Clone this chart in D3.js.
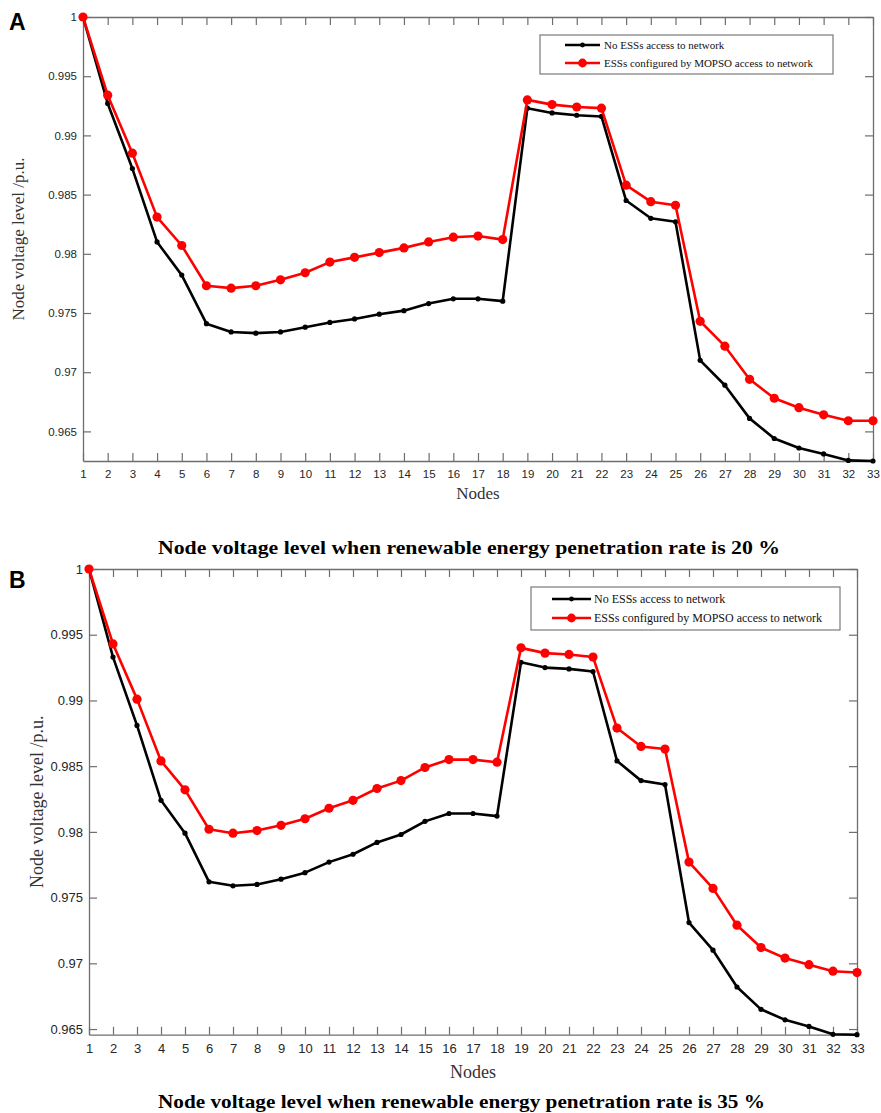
<!DOCTYPE html>
<html>
<head>
<meta charset="utf-8">
<script src="https://cdn.jsdelivr.net/npm/d3@7"></script>
<style>
  body { margin: 0; background: #fff; }
  svg { display: block; }
  .tick text { fill: #262626; font-family: "Liberation Sans", Arial, sans-serif; }
</style>
</head>
<body>
<svg id="chart" width="881" height="1113"></svg>
<script>
// node numbers on the x axis
var nodes = [1, 2, 3, 4, 5, 6, 7, 8, 9, 10, 11, 12, 13, 14, 15, 16, 17, 18, 19, 20, 21, 22, 23, 24, 25, 26, 27, 28, 29, 30, 31, 32, 33];

// panel A - 20 % penetration
var noEss20 = [1.0000, 0.9927, 0.9872, 0.9810, 0.9782, 0.9741, 0.9734, 0.9733, 0.9734, 0.9738, 0.9742, 0.9745, 0.9749, 0.9752, 0.9758, 0.9762, 0.9762, 0.9760, 0.9923, 0.9919, 0.9917, 0.9916, 0.9845, 0.9830, 0.9827, 0.9710, 0.9689, 0.9661, 0.9644, 0.9636, 0.9631, 0.96255, 0.9625];
var mopso20 = [1.0000, 0.9934, 0.9885, 0.9831, 0.9807, 0.9773, 0.9771, 0.9773, 0.9778, 0.9784, 0.9793, 0.9797, 0.9801, 0.9805, 0.9810, 0.9814, 0.9815, 0.9812, 0.9930, 0.9926, 0.9924, 0.9923, 0.9858, 0.9844, 0.9841, 0.9743, 0.9722, 0.9694, 0.9678, 0.9670, 0.9664, 0.9659, 0.9659];

// panel B - 35 % penetration
var noEss35 = [1.0000, 0.9933, 0.9881, 0.9824, 0.9799, 0.9762, 0.9759, 0.9760, 0.9764, 0.9769, 0.9777, 0.9783, 0.9792, 0.9798, 0.9808, 0.9814, 0.9814, 0.9812, 0.9929, 0.9925, 0.9924, 0.9922, 0.9854, 0.9839, 0.9836, 0.9731, 0.9710, 0.9682, 0.9665, 0.9657, 0.9652, 0.9646, 0.96457];
var mopso35 = [1.0000, 0.9943, 0.9901, 0.9854, 0.9832, 0.9802, 0.9799, 0.9801, 0.9805, 0.9810, 0.9818, 0.9824, 0.9833, 0.9839, 0.9849, 0.9855, 0.9855, 0.9853, 0.9940, 0.9936, 0.9935, 0.9933, 0.9879, 0.9865, 0.9863, 0.9777, 0.9757, 0.9729, 0.9712, 0.9704, 0.9699, 0.9694, 0.9693];

var yTicks = [0.965, 0.97, 0.975, 0.98, 0.985, 0.99, 0.995, 1];
var legendLabels = ["No ESSs access to network", "ESSs configured by MOPSO access to network"];
var titles = ["Node voltage level when renewable energy penetration rate is 20 %",
              "Node voltage level when renewable energy penetration rate is 35 %"];

var svg = d3.select("#chart");
var axisColor = "#6e6e6e";

function drawPanel(p) {
    var x = d3.scaleLinear().domain([1, 33]).range([p.left, p.right]);
    // MATLAB "axis tight" style: bottom sits on the lowest value
    var yMin = d3.min(p.black);
    var y = d3.scaleLinear().domain([yMin, 1]).range([p.bottom, p.top]);

    var g = svg.append("g");
    var fmt = function(d) { return String(+d.toFixed(3)); };

    var bottom = g.append("g").attr("transform", "translate(0," + p.bottom + ")")
        .call(d3.axisBottom(x).tickValues(nodes).tickFormat(d3.format("d")).tickSizeInner(-8).tickSizeOuter(0).tickPadding(9));
    var top = g.append("g").attr("transform", "translate(0," + p.top + ")")
        .call(d3.axisTop(x).tickValues(nodes).tickFormat("").tickSizeInner(-8).tickSizeOuter(0));
    var left = g.append("g").attr("transform", "translate(" + p.left + ",0)")
        .call(d3.axisLeft(y).tickValues(yTicks).tickFormat(fmt).tickSizeInner(-8).tickSizeOuter(0).tickPadding(6));
    var right = g.append("g").attr("transform", "translate(" + p.right + ",0)")
        .call(d3.axisRight(y).tickValues(yTicks).tickFormat("").tickSizeInner(-8).tickSizeOuter(0));

    [bottom, top, left, right].forEach(function(a) {
        a.select(".domain").attr("stroke", axisColor).attr("stroke-width", 1.3);
        a.selectAll(".tick line").attr("stroke", axisColor).attr("stroke-width", 1.2);
        a.selectAll(".tick text").attr("font-size", p.tickFont);
    });

    var line = d3.line().x(function(d, i) { return x(nodes[i]); }).y(function(d) { return y(d); });

    // black series
    g.append("path").datum(p.black).attr("d", line)
        .attr("fill", "none").attr("stroke", "#000").attr("stroke-width", 2.6).attr("stroke-linejoin", "round");
    g.selectAll(".dotB").data(p.black).enter().append("circle")
        .attr("cx", function(d, i) { return x(nodes[i]); })
        .attr("cy", function(d) { return y(d); })
        .attr("r", 2.6).attr("fill", "#000");

    // red series
    g.append("path").datum(p.red).attr("d", line)
        .attr("fill", "none").attr("stroke", "#ff0000").attr("stroke-width", 2.6).attr("stroke-linejoin", "round");
    g.selectAll(".dotR").data(p.red).enter().append("circle")
        .attr("cx", function(d, i) { return x(nodes[i]); })
        .attr("cy", function(d) { return y(d); })
        .attr("r", 4.6).attr("fill", "#ff0000");

    // legend
    var lg = p.legend;
    g.append("rect").attr("x", lg.x).attr("y", lg.y).attr("width", lg.w).attr("height", lg.h)
        .attr("fill", "#fff").attr("stroke", "#7a7a7a").attr("stroke-width", 1.2);
    var rows = [{c: "#000", r: 2.4}, {c: "#ff0000", r: 4.4}];
    rows.forEach(function(row, i) {
        var ry = lg.rowY[i];
        g.append("line").attr("x1", lg.lx1).attr("x2", lg.lx2).attr("y1", ry).attr("y2", ry)
            .attr("stroke", row.c).attr("stroke-width", 2.6);
        g.append("circle").attr("cx", (lg.lx1 + lg.lx2) / 2).attr("cy", ry).attr("r", row.r).attr("fill", row.c);
        g.append("text").attr("x", lg.tx).attr("y", ry + lg.font * 0.35)
            .attr("font-family", "'Liberation Serif', 'Times New Roman', serif")
            .attr("font-size", lg.font).attr("fill", "#111")
            .text(legendLabels[i]);
    });

    // axis labels
    g.append("text").attr("x", (p.left + p.right) / 2).attr("y", p.nodesY)
        .attr("text-anchor", "middle")
        .attr("font-family", "'Liberation Serif', 'Times New Roman', serif")
        .attr("font-size", p.labelFont).attr("fill", "#333").text("Nodes");
    g.append("text")
        .attr("transform", "translate(" + p.yLabelX + "," + ((p.top + p.bottom) / 2) + ") rotate(-90)")
        .attr("text-anchor", "middle")
        .attr("font-family", "'Liberation Serif', 'Times New Roman', serif")
        .attr("font-size", p.labelFont).attr("fill", "#333").text("Node voltage level /p.u.");

    // caption
    g.append("text").attr("x", p.titleX).attr("y", p.titleY)
        .attr("font-family", "'Liberation Serif', 'Times New Roman', serif")
        .attr("font-weight", "bold").attr("font-size", 19).attr("fill", "#000")
        .attr("textLength", p.titleW).attr("lengthAdjust", "spacingAndGlyphs")
        .text(p.title);

    // panel letter
    g.append("text").attr("x", 9).attr("y", p.letterY)
        .attr("font-family", "'Liberation Sans', Arial, sans-serif")
        .attr("font-weight", "bold").attr("font-size", 23).attr("fill", "#000")
        .text(p.letter);
}

drawPanel({
    letter: "A", letterY: 30,
    left: 83, right: 873, top: 17, bottom: 461,
    black: noEss20, red: mopso20,
    tickFont: 11.5, labelFont: 17,
    nodesY: 499, yLabelX: 24,
    title: titles[0], titleX: 158, titleY: 554, titleW: 622,
    legend: {x: 540, y: 35, w: 293, h: 39, lx1: 565, lx2: 600, tx: 604, rowY: [45, 63], font: 11}
});

drawPanel({
    letter: "B", letterY: 588,
    left: 89, right: 857, top: 569, bottom: 1034.7,
    black: noEss35, red: mopso35,
    tickFont: 13, labelFont: 18,
    nodesY: 1078, yLabelX: 43,
    title: titles[1], titleX: 158, titleY: 1108, titleW: 607,
    legend: {x: 531, y: 587, w: 309, h: 43, lx1: 552, lx2: 591, tx: 594, rowY: [599, 618], font: 12}
});
</script>
</body>
</html>
